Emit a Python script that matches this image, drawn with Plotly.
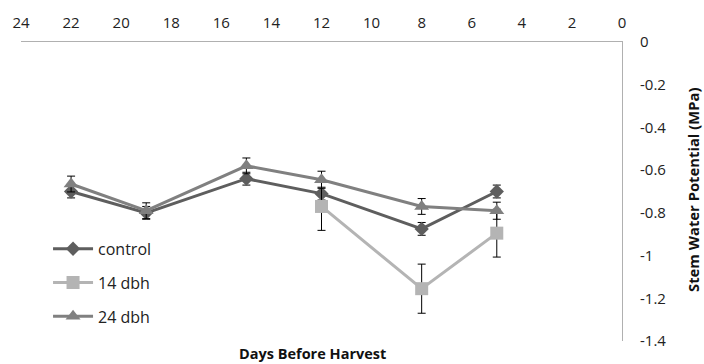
import plotly.graph_objects as go

# Days before harvest at which stem water potential was measured
days = [22, 19, 15, 12, 8, 5]
days_14 = [12, 8, 5]

# Mean stem water potential (MPa) and standard errors
control = [-0.70, -0.80, -0.64, -0.71, -0.875, -0.70]
control_err = [0.03, 0.03, 0.03, 0.03, 0.03, 0.03]

dbh14 = [-0.77, -1.155, -0.895]
dbh14_err = [0.112, 0.115, 0.112]

dbh24 = [-0.665, -0.79, -0.58, -0.645, -0.77, -0.79]
dbh24_err = [0.037, 0.037, 0.037, 0.04, 0.037, 0.04]

x_ticks = list(range(24, -1, -2))
y_ticks = [0, -0.2, -0.4, -0.6, -0.8, -1, -1.2, -1.4]
y_tick_text = ["0", "-0.2", "-0.4", "-0.6", "-0.8", "-1", "-1.2", "-1.4"]

FONT = "Open Sans"

fig = go.Figure()


def add_series(x, y, err, name, color, symbol, size):
    fig.add_trace(go.Scatter(
        x=x, y=y, name=name, mode="lines+markers",
        line=dict(color=color, width=3),
        marker=dict(symbol=symbol, size=size, color=color),
        error_y=dict(type="data", array=err, visible=True,
                     color="black", thickness=1, width=4),
        legendgroup=name,
    ))


add_series(days, control, control_err, "control", "#5e5e5e", "diamond", 11)
add_series(days_14, dbh14, dbh14_err, "14 dbh", "#b4b4b4", "square", 13)
add_series(days, dbh24, dbh24_err, "24 dbh", "#808080", "triangle-up", 13)

fig.update_layout(
    width=704, height=364,
    margin=dict(l=17, r=82, t=41, b=23),
    paper_bgcolor="white", plot_bgcolor="white",
    font=dict(family=FONT, size=15, color="#222"),
    showlegend=True,
    legend=dict(
        x=0.045, y=0.365, xanchor="left", yanchor="top",
        font=dict(family=FONT, size=16, color="#222"),
        tracegroupgap=10, bgcolor="rgba(0,0,0,0)",
        itemwidth=40,
    ),
    xaxis=dict(
        range=[24, 0], side="top", tickvals=x_ticks,
        showline=True, linecolor="#b0b0b0", linewidth=1,
        showgrid=False, zeroline=False, ticks="",
        ticklabelstandoff=7,
        tickfont=dict(family=FONT, size=15, color="#222"),
    ),
    yaxis=dict(
        range=[-1.4, 0], side="right", tickvals=y_ticks, ticktext=y_tick_text,
        showline=True, linecolor="#b0b0b0", linewidth=1,
        showgrid=False, zeroline=False, ticks="",
        ticklabelstandoff=14,
        tickfont=dict(family=FONT, size=15, color="#222"),
    ),
    annotations=[
        dict(text="<b>Days Before Harvest</b>", xref="paper", yref="paper",
             x=0.485, y=0, yshift=-12, xanchor="center", yanchor="middle",
             showarrow=False, font=dict(family=FONT, size=14.5, color="#111")),
        dict(text="<b>Stem Water Potential (MPa)</b>", xref="paper", yref="paper",
             x=1, xshift=71, y=0.505, textangle=-90, xanchor="center",
             yanchor="middle", showarrow=False,
             font=dict(family=FONT, size=14.8, color="#111")),
    ],
)

fig.write_html("out.html")
